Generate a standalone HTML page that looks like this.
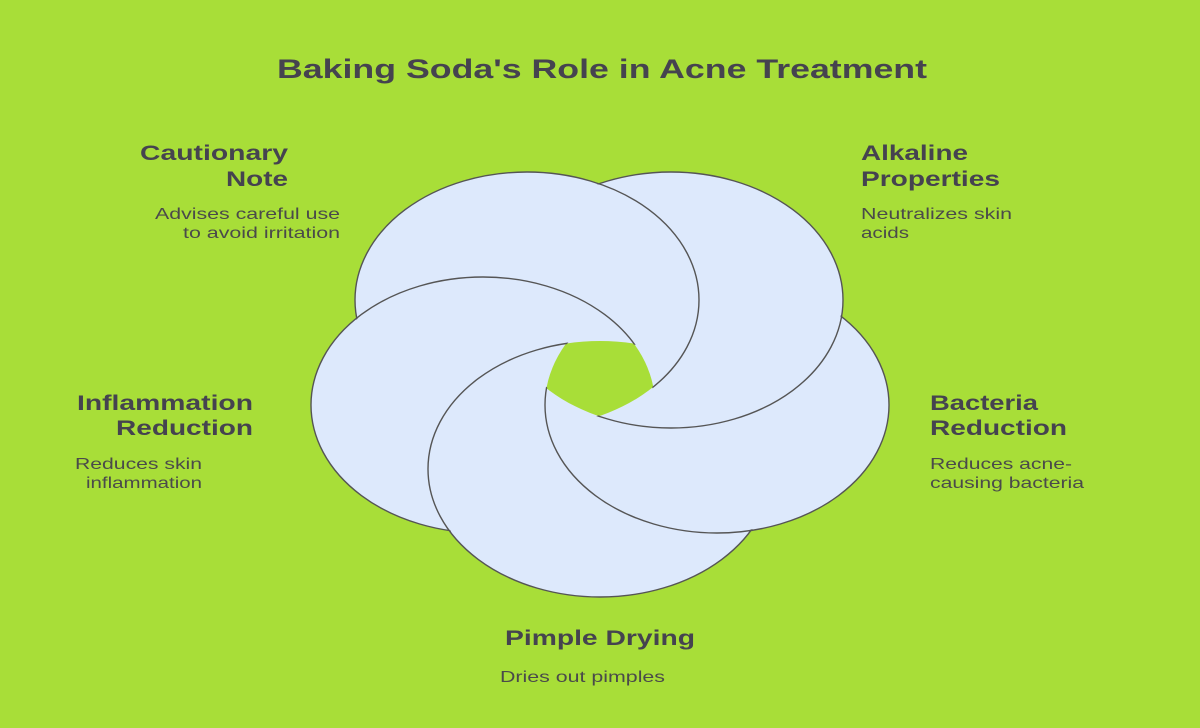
<!DOCTYPE html>
<html><head><meta charset="utf-8"><style>
html,body{margin:0;padding:0;background:#a8de38;}
svg{display:block}
text{font-family:"Liberation Sans",Arial,sans-serif;fill:#45434f}
.h{font-weight:bold;font-size:21.5px}
.d{font-size:16px;fill:#4a4a4a}
</style></head><body>
<svg width="1200" height="728" viewBox="0 0 1200 728" xmlns="http://www.w3.org/2000/svg">
<rect width="1200" height="728" fill="#a8de38"/>
<defs>
<mask id="mTL"><rect width="1200" height="728" fill="white"/><ellipse cx="483" cy="405" rx="172" ry="128" fill="black"/></mask>
<mask id="mL"><rect width="1200" height="728" fill="white"/><ellipse cx="600" cy="469" rx="172" ry="128" fill="black"/></mask>
<mask id="mB"><rect width="1200" height="728" fill="white"/><ellipse cx="717" cy="405" rx="172" ry="128" fill="black"/></mask>
<mask id="mR"><rect width="1200" height="728" fill="white"/><ellipse cx="671" cy="300" rx="172" ry="128" fill="black"/></mask>
<mask id="mTR"><rect width="1200" height="728" fill="white"/><ellipse cx="527" cy="300" rx="172" ry="128" fill="black"/></mask>

<mask id="sTL"><rect width="1200" height="728" fill="white"/><ellipse cx="483" cy="405" rx="171" ry="127" fill="black"/></mask>
<mask id="sL"><rect width="1200" height="728" fill="white"/><ellipse cx="600" cy="469" rx="171" ry="127" fill="black"/></mask>
<mask id="sB"><rect width="1200" height="728" fill="white"/><ellipse cx="717" cy="405" rx="171" ry="127" fill="black"/></mask>
<mask id="sR"><rect width="1200" height="728" fill="white"/><ellipse cx="671" cy="300" rx="171" ry="127" fill="black"/></mask>
<mask id="sTR"><rect width="1200" height="728" fill="white"/><ellipse cx="527" cy="300" rx="171" ry="127" fill="black"/></mask>
</defs>
<g fill="#dde9fc" stroke="none">
<ellipse cx="527" cy="300" rx="172" ry="128" mask="url(#mTL)"/>
<ellipse cx="483" cy="405" rx="172" ry="128" mask="url(#mL)"/>
<ellipse cx="600" cy="469" rx="172" ry="128" mask="url(#mB)"/>
<ellipse cx="717" cy="405" rx="172" ry="128" mask="url(#mR)"/>
<ellipse cx="671" cy="300" rx="172" ry="128" mask="url(#mTR)"/>
</g>
<g fill="none" stroke="#555" stroke-width="1.4">
<ellipse cx="527" cy="300" rx="172" ry="128" mask="url(#sTL)"/>
<ellipse cx="483" cy="405" rx="172" ry="128" mask="url(#sL)"/>
<ellipse cx="600" cy="469" rx="172" ry="128" mask="url(#sB)"/>
<ellipse cx="717" cy="405" rx="172" ry="128" mask="url(#sR)"/>
<ellipse cx="671" cy="300" rx="172" ry="128" mask="url(#sTR)"/>
</g>
<text x="277" y="78" font-weight="bold" font-size="26.5" textLength="650" lengthAdjust="spacingAndGlyphs">Baking Soda's Role in Acne Treatment</text>

<text class="h" x="140" y="160" textLength="148" lengthAdjust="spacingAndGlyphs">Cautionary</text>
<text class="h" x="226" y="186" textLength="62" lengthAdjust="spacingAndGlyphs">Note</text>
<text class="d" x="155" y="219" textLength="185" lengthAdjust="spacingAndGlyphs">Advises careful use</text>
<text class="d" x="183" y="238" textLength="157" lengthAdjust="spacingAndGlyphs">to avoid irritation</text>

<text class="h" x="861" y="160" textLength="107" lengthAdjust="spacingAndGlyphs">Alkaline</text>
<text class="h" x="861" y="186" textLength="139" lengthAdjust="spacingAndGlyphs">Properties</text>
<text class="d" x="861" y="219" textLength="151" lengthAdjust="spacingAndGlyphs">Neutralizes skin</text>
<text class="d" x="861" y="238" textLength="48" lengthAdjust="spacingAndGlyphs">acids</text>

<text class="h" x="77" y="410" textLength="176" lengthAdjust="spacingAndGlyphs">Inflammation</text>
<text class="h" x="116" y="435" textLength="137" lengthAdjust="spacingAndGlyphs">Reduction</text>
<text class="d" x="75" y="469" textLength="127" lengthAdjust="spacingAndGlyphs">Reduces skin</text>
<text class="d" x="86" y="488" textLength="116" lengthAdjust="spacingAndGlyphs">inflammation</text>

<text class="h" x="930" y="410" textLength="108" lengthAdjust="spacingAndGlyphs">Bacteria</text>
<text class="h" x="930" y="435" textLength="137" lengthAdjust="spacingAndGlyphs">Reduction</text>
<text class="d" x="930" y="469" textLength="142" lengthAdjust="spacingAndGlyphs">Reduces acne-</text>
<text class="d" x="930" y="488" textLength="154" lengthAdjust="spacingAndGlyphs">causing bacteria</text>

<text class="h" x="505" y="645" textLength="190" lengthAdjust="spacingAndGlyphs">Pimple Drying</text>
<text class="d" x="500" y="682" textLength="165" lengthAdjust="spacingAndGlyphs">Dries out pimples</text>
</svg>
</body></html>
